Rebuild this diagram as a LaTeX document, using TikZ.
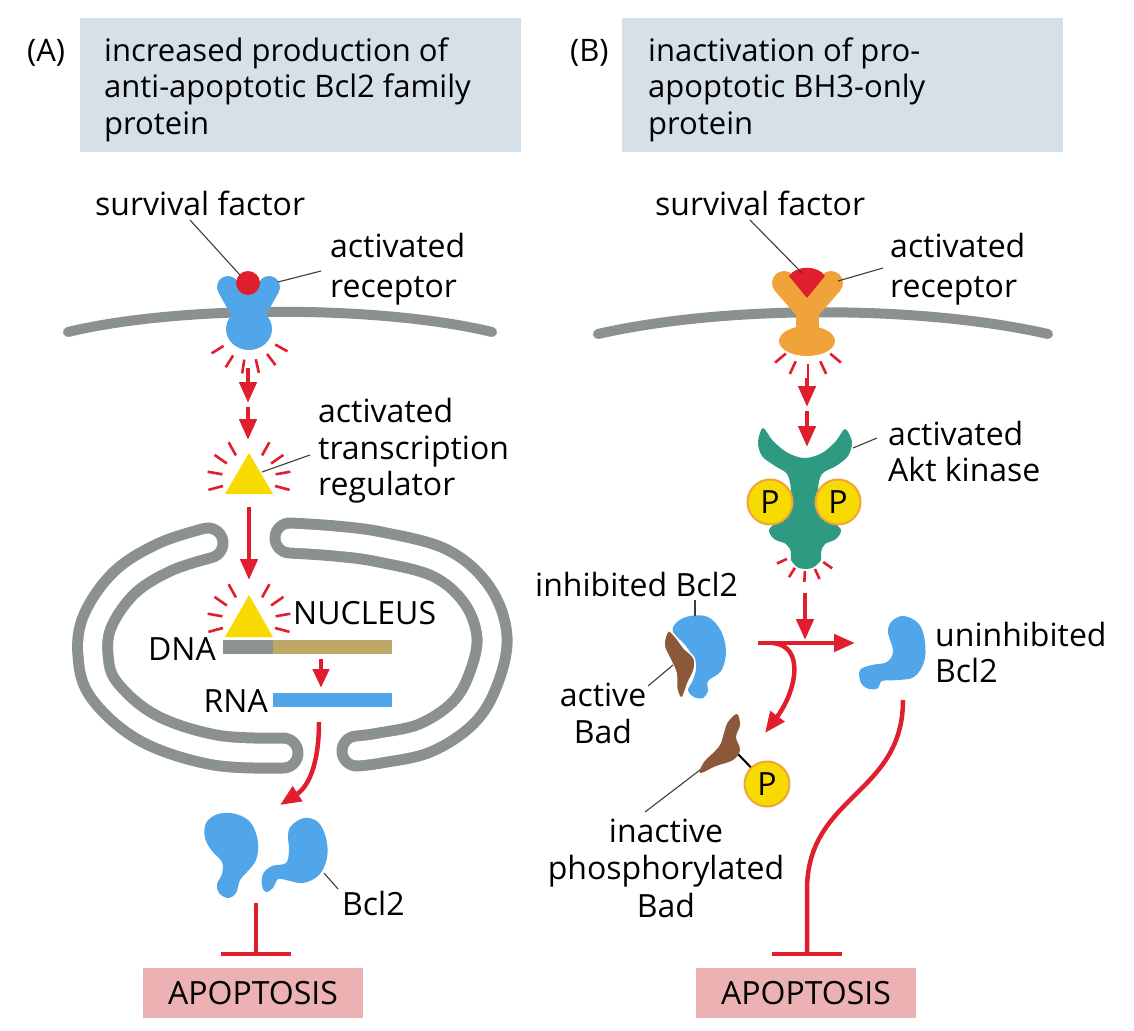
\documentclass[tikz,border=0pt]{standalone}
\usepackage{fontspec}
\setmainfont{Open Sans}
\usetikzlibrary{arrows.meta,calc}
\definecolor{hdr}{RGB}{213,224,232}
\definecolor{apo}{RGB}{236,177,178}
\definecolor{rd}{RGB}{224,30,45}
\definecolor{memb}{RGB}{138,145,143}
\definecolor{bcl}{RGB}{80,166,232}
\definecolor{yel}{RGB}{247,218,0}
\definecolor{org}{RGB}{240,163,58}
\definecolor{akt}{RGB}{46,154,130}
\definecolor{bad}{RGB}{140,88,58}
\definecolor{dnatan}{RGB}{190,168,104}
\definecolor{dnag}{RGB}{140,146,144}
\definecolor{lead}{RGB}{60,60,60}
\begin{document}
\begin{tikzpicture}[x=1pt,y=-1pt,
  lbl/.style={inner sep=0pt, font=\fontsize{32}{38}\selectfont},
  hd/.style={inner sep=0pt, font=\fontsize{31}{37}\selectfont},
  arr/.style={draw=rd, line width=4.5pt, -{Triangle[length=21pt,width=17pt]}},
  inh/.style={draw=rd, line width=4.5pt, -{Bar[width=70pt]}},
  ray/.style={draw=rd, line width=2.6pt},
  leader/.style={draw=lead, line width=1.1pt},
  membrane/.style={draw=memb, line width=10pt, line cap=round},
  pcirc/.style={circle, fill=yel, draw=org, line width=2pt, minimum size=45pt, inner sep=0pt, font=\fontsize{32}{34}\selectfont},
  boxhd/.style={fill=hdr, inner sep=0pt, anchor=north west},
  boxapo/.style={fill=apo, inner sep=0pt, minimum width=220pt, minimum height=50pt, font=\fontsize{32}{38}\selectfont}
]
\useasboundingbox (0,0) rectangle (1134,1030);

% ---------- headers ----------
\node[boxhd, minimum width=441pt, minimum height=134pt] (hdrA) at (80,18) {};
\node[boxhd, minimum width=441pt, minimum height=134pt] (hdrB) at (622,18) {};
\node[hd, anchor=base west] (labA) at (27,62) {(A)};
\node[hd, anchor=base west] (labB) at (570,62) {(B)};
\node[hd, anchor=base west] (hA1) at (104,62) {increased production of};
\node[hd, anchor=base west] (hA2) at (104,98) {anti-apoptotic Bcl2 family};
\node[hd, anchor=base west] (hA3) at (104,134) {protein};
\node[hd, anchor=base west] (hB1) at (648,62) {inactivation of pro-};
\node[hd, anchor=base west] (hB2) at (648,98) {apoptotic BH3-only};
\node[hd, anchor=base west] (hB3) at (648,134) {protein};

% ---------- membranes ----------
\draw[membrane] (68,332) .. controls (180,305) and (380,305) .. (492,332);
\draw[membrane] (598,334) .. controls (725,305) and (920,305) .. (1048,334);

% ---------- receptor A ----------
\draw[bcl, line width=22pt, line cap=round] (228,287) -- (238,305);
\draw[bcl, line width=22pt, line cap=round] (269,287) -- (259,305);
\fill[bcl] (235,292) rectangle (263,318);
\fill[bcl] (249,329) ellipse [x radius=23pt, y radius=21pt];
\fill[rd] (248,283) circle [radius=12pt];
\coordinate (rcA) at (249,330);
\foreach \a in {148,122,99,77,53,29} \draw[ray] ($(rcA)+(\a:30)$) -- ($(rcA)+(\a:44)$);

\coordinate (sfAend) at (240,275);
\coordinate (sfAstart) at (190,220);
\draw[leader] (sfAstart) -- (sfAend);
\coordinate (arAend) at (278,282);
\coordinate (arAstart) at (321,271);
\draw[leader] (arAend) -- (arAstart);

\node[lbl, anchor=base west] (sfA) at (95,215) {survival factor};
\node[lbl, anchor=base west] (arA1) at (330,257) {activated};
\node[lbl, anchor=base west] (arA2) at (330,297) {receptor};

% arrows A
\coordinate (a1s) at (248,368); \coordinate (a1e) at (248,403);
\coordinate (a2s) at (248,407); \coordinate (a2e) at (248,440);
\draw[arr] (a1s) -- (a1e);
\draw[arr] (a2s) -- (a2e);

% triangle 1
\fill[yel] (249,453) -- (273,494) -- (225,494) -- cycle;
\coordinate (tc1) at (249,479);
\foreach \a in {165,190,215,241,299,325,350,375} \draw[ray] ($(tc1)+(\a:27)$) -- ($(tc1)+(\a:42)$);
\coordinate (trEnd) at (262,472); \coordinate (trStart) at (310,455);
\draw[leader] (trEnd) -- (trStart);
\node[lbl, anchor=base west] (trA1) at (318,422) {activated};
\node[lbl, anchor=base west] (trA2) at (318,459) {transcription};
\node[lbl, anchor=base west] (trA3) at (318,495) {regulator};

% ---------- nucleus ----------
\def\leftloop{(208,543) (165,557) (125,582) (98,620) (93,655) (104,690) (148,728) (215,750) (283,753)}
\def\rightloop{(290,538) (335,541) (380,547) (440,563) (477,595) (492,637) (483,680) (463,713) (425,738) (380,748) (357,751)}
\draw[memb, line width=41pt, line cap=round] plot[smooth, tension=0.6] coordinates {\leftloop};
\draw[white, line width=19pt, line cap=round] plot[smooth, tension=0.6] coordinates {\leftloop};
\draw[memb, line width=41pt, line cap=round] plot[smooth, tension=0.6] coordinates {\rightloop};
\draw[white, line width=19pt, line cap=round] plot[smooth, tension=0.6] coordinates {\rightloop};

\coordinate (a3s) at (249,507); \coordinate (a3e) at (249,580);
\draw[arr] (a3s) -- (a3e);

% triangle 2
\fill[yel] (249,595) -- (273,637) -- (225,637) -- cycle;
\coordinate (tc2) at (249,621);
\foreach \a in {165,190,215,241,299,325,350,375} \draw[ray] ($(tc2)+(\a:27)$) -- ($(tc2)+(\a:42)$);
\node[lbl, anchor=base west] (nuc) at (293,624) {NUCLEUS};

% DNA / RNA
\fill[dnag] (223,640) rectangle (273,654);
\fill[dnatan] (273,640) rectangle (392,654);
\fill[bcl] (273,693) rectangle (392,707);
\node[lbl, anchor=base east] (dna) at (216,660) {DNA};
\node[lbl, anchor=base east] (rna) at (268,712) {RNA};
\coordinate (a4s) at (321,659); \coordinate (a4e) at (321,688);
\draw[arr, -{Triangle[length=19pt,width=16pt]}] (a4s) -- (a4e);
\coordinate (a5s) at (319,722); \coordinate (a5e) at (280,805);
\draw[arr] (a5s) .. controls (319,765) and (308,787) .. (a5e);

% Bcl2 A
\fill[bcl] plot[smooth cycle, tension=0.6] coordinates {(206,823) (218,814) (236,814) (251,823) (258,842) (256,860) (247,872) (240,880) (236,893) (228,898) (219,893) (217,884) (222,874) (222,862) (212,851) (205,838)};
\fill[bcl] plot[smooth cycle, tension=0.6] coordinates {(291,826) (304,818) (318,822) (326,838) (327,858) (319,875) (303,883) (286,880) (278,879) (273,888) (266,892) (262,886) (263,874) (272,866) (286,863) (289,850) (288,836)};
\coordinate (bclAend) at (324,873); \coordinate (bclAstart) at (338,889);
\draw[leader] (bclAend) -- (bclAstart);
\node[lbl, anchor=base west] (bclA) at (342,915) {Bcl2};

% inhibition A
\node[boxapo] (apoA) at (253,993) {APOPTOSIS};
\coordinate (iAs) at (256,903); \coordinate (iAe) at (256,956);
\draw[inh] (iAs) -- (iAe);

% ---------- receptor B ----------
\draw[org, line width=24pt, line cap=round] (784,283) -- (804,306);
\draw[org, line width=24pt, line cap=round] (831,283) -- (811,306);
\fill[org] (796,300) rectangle (819,336);
\fill[org] (807,341) ellipse [x radius=28pt, y radius=15pt];
\fill[rd] (807,298) -- (789,276) .. controls (796,265) and (818,265) .. (825,276) -- cycle;
\coordinate (rcB) at (808,335);
\foreach \a in {140,115,90,65,40} \draw[ray] ($(rcB)+(\a:29)$) -- ($(rcB)+(\a:43)$);

\coordinate (sfBstart) at (750,220); \coordinate (sfBend) at (802,273);
\draw[leader] (sfBstart) -- (sfBend);
\coordinate (arBend) at (838,281); \coordinate (arBstart) at (883,268);
\draw[leader] (arBend) -- (arBstart);
\node[lbl, anchor=base west] (sfB) at (655,215) {survival factor};
\node[lbl, anchor=base west] (arB1) at (890,257) {activated};
\node[lbl, anchor=base west] (arB2) at (890,297) {receptor};

\coordinate (b1s) at (807,378); \coordinate (b1e) at (807,407);
\coordinate (b2s) at (807,411); \coordinate (b2e) at (807,447);
\draw[arr] (b1s) -- (b1e);
\draw[arr] (b2s) -- (b2e);

% Akt kinase
\fill[akt] plot[smooth cycle, tension=0.55] coordinates {(763,428) (773,441) (788,453) (805,458) (822,453) (836,441) (845,429) (852,442) (848,456) (836,466) (822,474) (818,490) (820,512) (833,522) (841,530) (836,539) (825,544) (821,552) (821,560) (812,568) (799,568) (791,560) (791,552) (786,544) (774,539) (769,530) (777,522) (790,512) (791,490) (787,474) (775,466) (762,456) (758,442)};
\node[pcirc] (pk1) at (770,502) {P};
\node[pcirc] (pk2) at (838,502) {P};
\coordinate (rcK) at (806,550);
\foreach \a in {155,122,93,65,35} \draw[ray] ($(rcK)+(\a:21)$) -- ($(rcK)+(\a:32)$);
\coordinate (akEnd) at (853,448); \coordinate (akStart) at (877,438);
\draw[leader] (akEnd) -- (akStart);
\node[lbl, anchor=base west] (ak1) at (888,445) {activated};
\node[lbl, anchor=base west] (ak2) at (888,481) {Akt kinase};

% junction arrows
\coordinate (b3s) at (805,593); \coordinate (b3e) at (805,640);
\draw[arr] (b3s) -- (b3e);
\coordinate (b4s) at (758,643); \coordinate (b4e) at (855,643);
\draw[arr] (b4s) -- (b4e);
\coordinate (b5s) at (772,643); \coordinate (b5e) at (765,733);
\draw[arr] (b5s) .. controls (805,645) and (797,690) .. (b5e);

% inhibited Bcl2 with active Bad
\fill[bcl] plot[smooth cycle, tension=0.6] coordinates {(677,622) (690,616) (708,617) (721,631) (726,652) (721,671) (708,681) (708,691) (703,698) (694,697) (688,690) (693,680) (696,664) (686,646) (673,632)};
\filldraw[fill=bad, draw=white, line width=1.5pt] plot[smooth cycle, tension=0.6] coordinates {(668,631) (675,636) (684,648) (694,658) (694,670) (688,683) (682,698) (677,690) (676,673) (670,659) (664,645)};
\coordinate (inhbEnd) at (695,616); \coordinate (inhbStart) at (695,600);
\draw[leader] (inhbEnd) -- (inhbStart);
\node[lbl, anchor=base west] (inhb) at (535,596) {inhibited Bcl2};
\coordinate (abEnd) at (673,665); \coordinate (abStart) at (648,686);
\draw[leader] (abEnd) -- (abStart);
\node[lbl, anchor=base] (ab1) at (603,706) {active};
\node[lbl, anchor=base] (ab2) at (603,743) {Bad};

% uninhibited Bcl2
\fill[bcl] plot[smooth cycle, tension=0.6] coordinates {(888,632) (892,621) (904,616) (919,624) (925,642) (924,662) (914,677) (898,680) (882,681) (878,688) (869,689) (861,683) (860,670) (872,665) (887,662) (893,651)};
\node[lbl, anchor=base west] (ub1) at (935,646) {uninhibited};
\node[lbl, anchor=base west] (ub2) at (935,682) {Bcl2};

% inactive phosphorylated Bad
\coordinate (badLink) at (736,752);
\node[pcirc] (pb) at (767,784) {P};
\draw[black, line width=2pt] (badLink) -- (pb);
\fill[bad] plot[smooth cycle, tension=0.6] coordinates {(737,714) (740,725) (736,737) (740,750) (733,760) (716,766) (700,773) (704,762) (712,754) (720,745) (724,733) (728,722)};
\coordinate (ibEnd) at (700,770); \coordinate (ibStart) at (645,812);
\draw[leader] (ibEnd) -- (ibStart);
\node[lbl, anchor=base] (ib1) at (666,842) {inactive};
\node[lbl, anchor=base] (ib2) at (666,879) {phosphorylated};
\node[lbl, anchor=base] (ib3) at (666,917) {Bad};

% inhibition B
\node[boxapo] (apoB) at (806,993) {APOPTOSIS};
\coordinate (iBs) at (903,700); \coordinate (iBm) at (807,890); \coordinate (iBe) at (807,956);
\draw[inh] (iBs) .. controls (903,795) and (807,795) .. (iBm) -- (iBe);
\end{tikzpicture}
\end{document}
